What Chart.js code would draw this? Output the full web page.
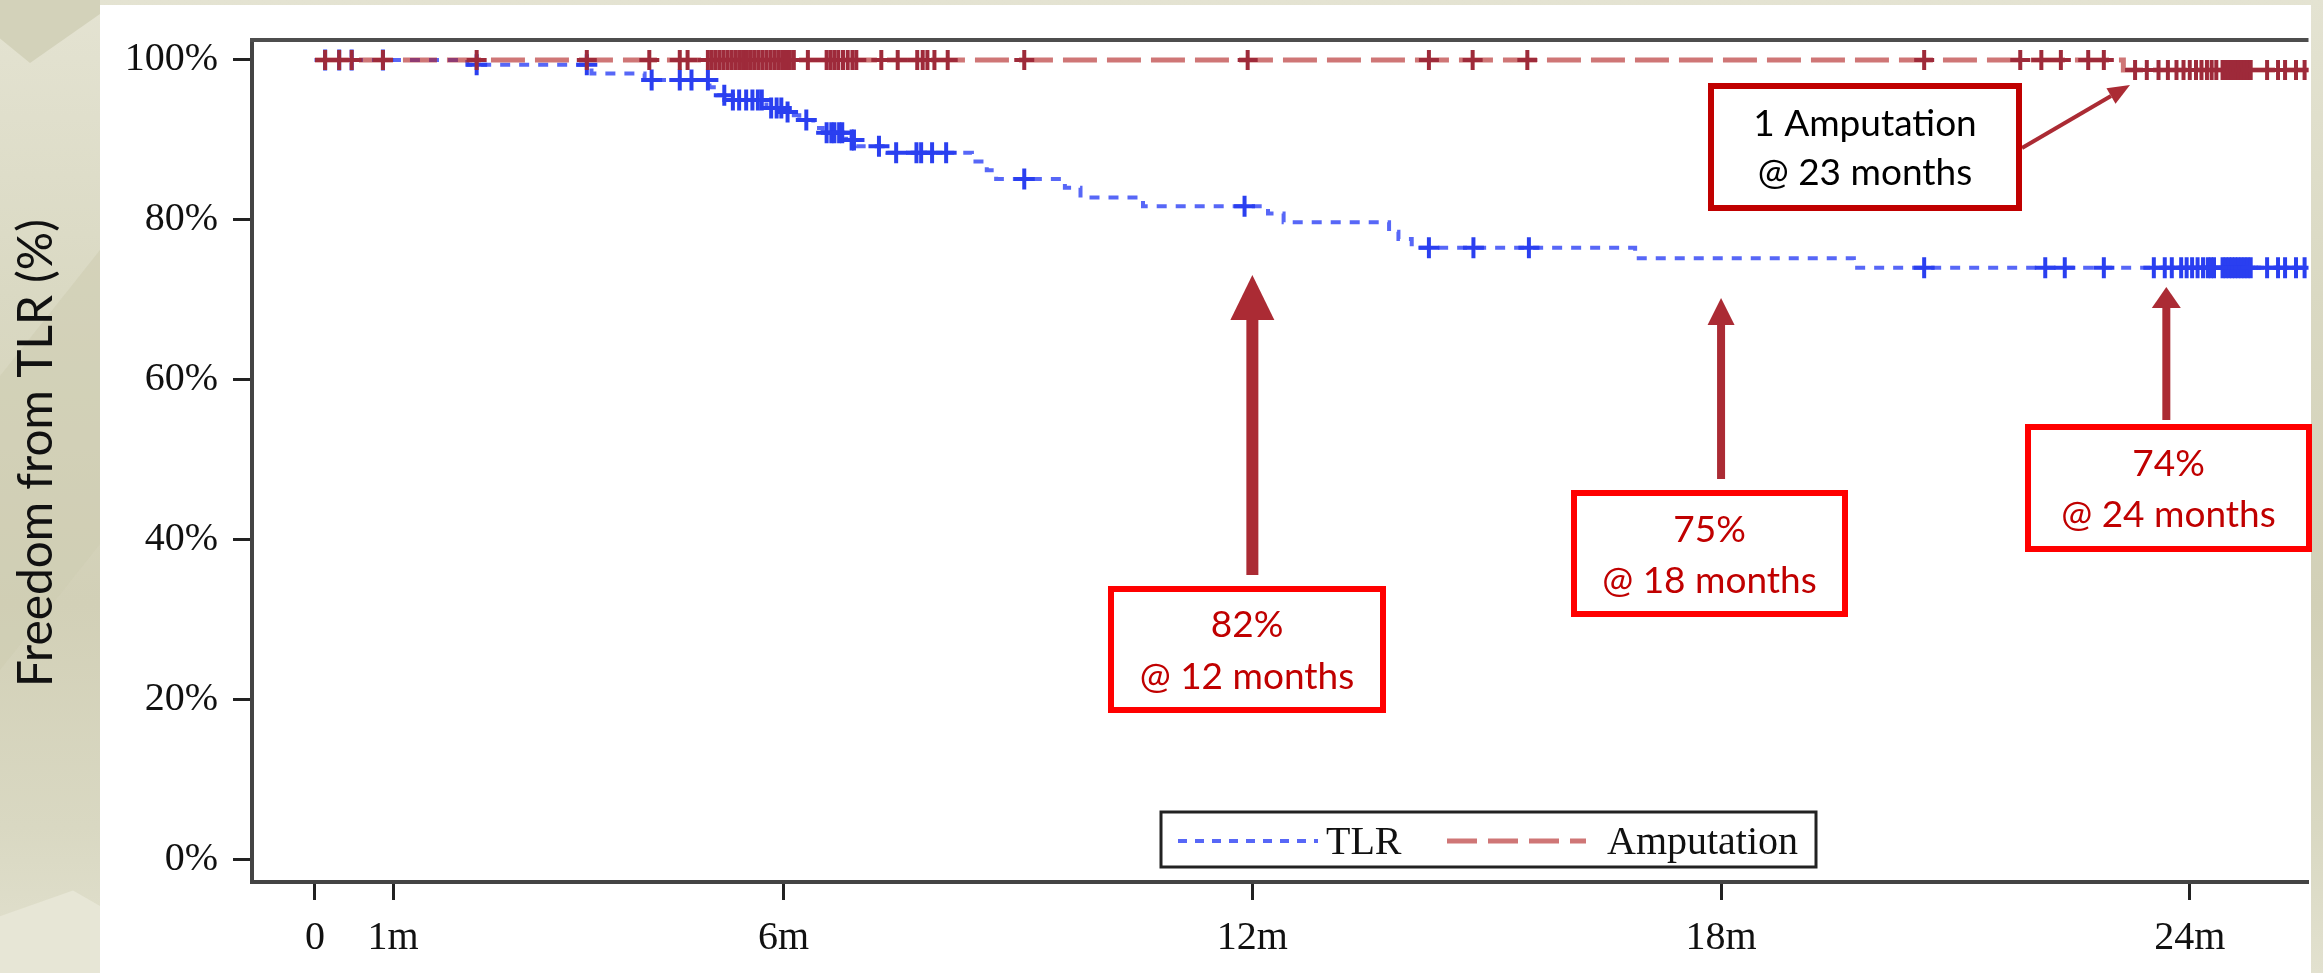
<!DOCTYPE html>
<html>
<head>
<meta charset="utf-8">
<script src="https://cdn.jsdelivr.net/npm/chart.js@4.4.1/dist/chart.umd.min.js"></script>
<style>
html,body{margin:0;padding:0;width:2323px;height:973px;overflow:hidden;}
body{position:relative;background:linear-gradient(180deg,#e4e3d2 0%,#dad9c3 30%,#d2d0b7 62%,#d9d8c2 85%,#e2e1cf 100%);}
.shape{position:absolute;}
#vtop{left:0;top:0;width:100px;height:70px;background:#d3d2ba;clip-path:polygon(0 0,100% 0,100% 20%,30% 90%,0 55%);}
#mount{left:0;top:870px;width:100px;height:103px;background:#e7e6d6;clip-path:polygon(0 45%,73% 20%,100% 35%,100% 100%,0 100%);}
#diag{left:0;top:250px;width:100px;height:420px;background:#cfcdb2;clip-path:polygon(0 30%,100% 0,100% 70%,0 100%);opacity:.6}
#panel{position:absolute;left:100px;top:5px;width:2211px;height:968px;background:#ffffff;}
#c{position:absolute;left:0;top:0;}
</style>
</head>
<body>
<div class="shape" id="vtop"></div>
<div class="shape" id="diag"></div>
<div class="shape" id="mount"></div>
<div id="panel"></div>
<canvas id="c" width="2323" height="973"></canvas>
<script>
// ---------- data ----------
const xTickValues = [0, 1, 6, 12, 18, 24];
const xTickLabels = ['0', '1m', '6m', '12m', '18m', '24m'];
const yTickValues = [0, 20, 40, 60, 80, 100];
const yTickLabels = ['0%', '20%', '40%', '60%', '80%', '100%'];

// TLR Kaplan-Meier steps (month at which the level starts, level in %)
const tlrStepMonths = [0, 1.95, 3.54, 4.22, 5.05, 5.15, 5.3, 5.78, 5.99, 6.1, 6.2, 6.38, 6.5, 6.8, 6.93, 7.33, 8.41, 8.6, 8.72, 9.6, 9.8, 10.6, 12.2, 12.4, 13.75, 13.87, 14.04, 16.9, 19.7, 25.6];
const tlrStepPct    = [100, 99.4, 98.3, 97.5, 96.6, 95.6, 95.0, 94.0, 93.5, 93.1, 92.5, 91.5, 90.9, 90.0, 89.2, 88.4, 87.3, 86.2, 85.1, 84.0, 82.8, 81.7, 80.8, 79.7, 78.5, 77.6, 76.5, 75.2, 74.0, 74.0];
const tlrCensorMonths = [0.13, 0.31, 0.47, 0.87, 2.07, 3.48, 4.31, 4.67, 4.82, 5.03, 5.24, 5.35, 5.43, 5.52, 5.6, 5.67, 5.72, 5.84, 5.91, 5.97, 6.05, 6.29, 6.55, 6.61, 6.65, 6.71, 6.75, 6.87, 6.9, 7.22, 7.44, 7.7, 7.76, 7.9, 8.08, 9.08, 11.9, 14.26, 14.83, 15.54, 20.6, 22.15, 22.4, 22.9, 23.54, 23.68, 23.77, 23.89, 23.96, 24.03, 24.1, 24.17, 24.23, 24.27, 24.31, 24.42, 24.46, 24.5, 24.54, 24.58, 24.62, 24.66, 24.7, 24.74, 24.78, 24.99, 25.13, 25.22, 25.36, 25.47];

// Amputation Kaplan-Meier steps
const ampStepMonths = [0, 23.15, 25.6];
const ampStepPct    = [100, 98.75, 98.75];
const ampCensorMonths = [0.13, 0.31, 0.47, 0.87, 2.07, 3.48, 4.28, 4.67, 4.77, 5.03, 5.08, 5.13, 5.18, 5.23, 5.28, 5.33, 5.38, 5.43, 5.48, 5.53, 5.58, 5.63, 5.68, 5.73, 5.78, 5.83, 5.88, 5.93, 5.98, 6.03, 6.08, 6.13, 6.31, 6.55, 6.6, 6.65, 6.7, 6.76, 6.82, 6.88, 6.93, 7.25, 7.46, 7.71, 7.78, 7.84, 7.93, 8.1, 9.08, 11.94, 14.26, 14.82, 15.52, 20.6, 21.83, 22.1, 22.35, 22.7, 22.9, 23.3, 23.45, 23.6, 23.72, 23.83, 23.92, 24.0, 24.08, 24.15, 24.22, 24.28, 24.34, 24.42, 24.46, 24.5, 24.54, 24.58, 24.62, 24.66, 24.7, 24.74, 24.78, 24.99, 25.13, 25.22, 25.36, 25.47];

const seriesNames = ['TLR', 'Amputation'];
const yAxisTitle = 'Freedom from TLR (%)';
const calloutTexts = [
  ['1 Amputation', '@ 23 months'],
  ['82%', '@ 12 months'],
  ['75%', '@ 18 months'],
  ['74%', '@ 24 months']
];

// ---------- styles ----------
const tlrLineColor = 'rgba(45,65,245,0.80)';
const tlrMarkColor = '#2a3ff0';
const ampLineColor = 'rgba(178,34,34,0.62)';
const ampMarkColor = '#9e2a3a';
const arrowColor = '#ab2b34';

function levelAt(months, pct, t) {
  let v = pct[0];
  for (let i = 0; i < months.length; i++) { if (months[i] <= t) v = pct[i]; }
  return v;
}
const toPts = (m, p) => m.map((x, i) => ({x: x, y: p[i]}));
const censorPts = (cm, m, p) => cm.map(t => ({x: t, y: levelAt(m, p, t)}));

// ---------- decorations (frame, legend, callouts, arrows, axis title) ----------
const decor = {
  id: 'decor',
  afterDatasetsDraw(chart) {
    const {ctx, chartArea: a} = chart;
    ctx.save();
    // top frame line
    ctx.strokeStyle = '#4d4d4d'; ctx.lineWidth = 4;
    ctx.beginPath(); ctx.moveTo(a.left - 2, a.top); ctx.lineTo(a.right, a.top); ctx.stroke();

    // legend
    ctx.fillStyle = '#fff'; ctx.fillRect(1161, 812, 655, 55);
    ctx.strokeStyle = '#222'; ctx.lineWidth = 3; ctx.strokeRect(1161, 812, 655, 55);
    ctx.lineWidth = 4; ctx.strokeStyle = tlrLineColor; ctx.setLineDash([9, 8]);
    ctx.beginPath(); ctx.moveTo(1178, 841); ctx.lineTo(1318, 841); ctx.stroke();
    ctx.lineWidth = 5; ctx.strokeStyle = ampLineColor; ctx.setLineDash([30, 11]);
    ctx.beginPath(); ctx.moveTo(1447, 841); ctx.lineTo(1586, 841); ctx.stroke();
    ctx.setLineDash([]);
    ctx.fillStyle = '#111'; ctx.font = '40px "Liberation Serif"'; ctx.textBaseline = 'alphabetic'; ctx.textAlign = 'left';
    ctx.fillText(seriesNames[0], 1326, 854);
    ctx.fillText(seriesNames[1], 1607, 854);

    // arrows
    function upArrow(cx, tip, bottom, shaftW, headW, headH) {
      ctx.fillStyle = arrowColor;
      ctx.fillRect(cx - shaftW / 2, tip + headH - 1, shaftW, bottom - tip - headH + 1);
      ctx.beginPath(); ctx.moveTo(cx, tip); ctx.lineTo(cx + headW / 2, tip + headH); ctx.lineTo(cx - headW / 2, tip + headH); ctx.closePath(); ctx.fill();
    }
    const xs = chart.scales.x;
    upArrow(xs.getPixelForValue(12), 275, 575, 12, 44, 45);
    upArrow(xs.getPixelForValue(18), 298, 479, 8, 27, 27);
    upArrow(xs.getPixelForValue(23.7), 287, 420, 8, 29, 21);
    // slanted arrow to amputation step
    (function(){
      const x0 = 2022, y0 = 148, x1 = 2130, y1 = 85;
      const ang = Math.atan2(y1 - y0, x1 - x0);
      const hl = 22, hw = 9;
      const bx = x1 - hl * Math.cos(ang), by = y1 - hl * Math.sin(ang);
      ctx.strokeStyle = arrowColor; ctx.lineWidth = 4;
      ctx.beginPath(); ctx.moveTo(x0, y0); ctx.lineTo(bx, by); ctx.stroke();
      ctx.fillStyle = arrowColor;
      ctx.beginPath(); ctx.moveTo(x1, y1);
      ctx.lineTo(bx + hw * Math.sin(ang), by - hw * Math.cos(ang));
      ctx.lineTo(bx - hw * Math.sin(ang), by + hw * Math.cos(ang));
      ctx.closePath(); ctx.fill();
    })();

    // callout boxes
    function box(x0, y0, x1, y1, border, textColor, lines, b1, b2) {
      ctx.fillStyle = '#fff'; ctx.fillRect(x0, y0, x1 - x0, y1 - y0);
      ctx.strokeStyle = border; ctx.lineWidth = 6; ctx.strokeRect(x0 + 3, y0 + 3, x1 - x0 - 6, y1 - y0 - 6);
      ctx.fillStyle = textColor; ctx.font = '37px Lato'; ctx.textAlign = 'center'; ctx.textBaseline = 'alphabetic';
      const cx = (x0 + x1) / 2;
      ctx.fillText(lines[0], cx, b1);
      ctx.fillText(lines[1], cx, b2);
    }
    box(1708, 83, 2022, 211, '#c00000', '#000', calloutTexts[0], 136, 185);
    box(1108, 586, 1386, 713, '#ff0000', '#c00000', calloutTexts[1], 637, 689);
    box(1571, 490, 1848, 617, '#ff0000', '#c00000', calloutTexts[2], 542, 593);
    box(2025, 424, 2312, 552, '#ff0000', '#c00000', calloutTexts[3], 476, 527);
    ctx.restore();
  },
  afterDraw(chart) {
    const ctx = chart.ctx;
    ctx.save();
    let size = 46;
    ctx.font = size + 'px Lato';
    const w = ctx.measureText(yAxisTitle).width;
    size = size * 468 / w;
    ctx.font = size.toFixed(1) + 'px Lato';
    ctx.translate(52, 453);
    ctx.rotate(-Math.PI / 2);
    ctx.fillStyle = '#111'; ctx.textAlign = 'center'; ctx.textBaseline = 'alphabetic';
    ctx.fillText(yAxisTitle, 0, 0);
    ctx.restore();
  }
};

const serif = {family: '"Liberation Serif", "Times New Roman", serif', size: 40};

new Chart(document.getElementById('c'), {
  type: 'line',
  data: {
    datasets: [
      {label: seriesNames[1] + ' censored', type: 'scatter', data: censorPts(ampCensorMonths, ampStepMonths, ampStepPct), showLine: false,
       pointStyle: 'cross', pointRadius: 10, pointBorderWidth: 4, pointBorderColor: ampMarkColor, pointBackgroundColor: ampMarkColor, order: 0, clip: 0},
      {label: seriesNames[1], data: toPts(ampStepMonths, ampStepPct), stepped: 'before', borderColor: ampLineColor, borderWidth: 5,
       borderDash: [34, 10], pointRadius: 0, fill: false, order: 1, clip: 0},
      {label: seriesNames[0] + ' censored', type: 'scatter', data: censorPts(tlrCensorMonths, tlrStepMonths, tlrStepPct), showLine: false,
       pointStyle: 'cross', pointRadius: 10.5, pointBorderWidth: 4, pointBorderColor: tlrMarkColor, pointBackgroundColor: tlrMarkColor, order: 2, clip: 0},
      {label: seriesNames[0], data: toPts(tlrStepMonths, tlrStepPct), stepped: 'before', borderColor: tlrLineColor, borderWidth: 4,
       borderDash: [10, 9], pointRadius: 0, fill: false, order: 3, clip: 0}
    ]
  },
  options: {
    responsive: false,
    animation: false,
    events: [],
    layout: {padding: {left: 0, right: 12, top: 40, bottom: 0}},
    plugins: {legend: {display: false}, tooltip: {enabled: false}},
    scales: {
      x: {
        type: 'linear', min: -0.806, max: 25.52,
        afterFit: s => { s.height = 91; },
        afterBuildTicks: s => { s.ticks = xTickValues.map(v => ({value: v})); },
        ticks: {autoSkip: false, maxRotation: 0, padding: 14, color: '#111', font: serif,
                callback: v => { const i = xTickValues.indexOf(v); return i >= 0 ? xTickLabels[i] : ''; }},
        grid: {display: true, drawOnChartArea: false, drawTicks: true, tickLength: 18, tickWidth: 3, tickColor: '#222'},
        border: {display: true, color: '#444', width: 4}
      },
      y: {
        type: 'linear', min: -2.85, max: 102.5,
        afterFit: s => { s.width = 252; },
        afterBuildTicks: s => { s.ticks = yTickValues.map(v => ({value: v})); },
        ticks: {autoSkip: false, padding: 15, color: '#111', font: serif,
                callback: v => { const i = yTickValues.indexOf(v); return i >= 0 ? yTickLabels[i] : ''; }},
        grid: {display: true, drawOnChartArea: false, drawTicks: true, tickLength: 19, tickWidth: 3, tickColor: '#222'},
        border: {display: true, color: '#444', width: 4}
      }
    }
  },
  plugins: [decor]
});
</script>
</body>
</html>
